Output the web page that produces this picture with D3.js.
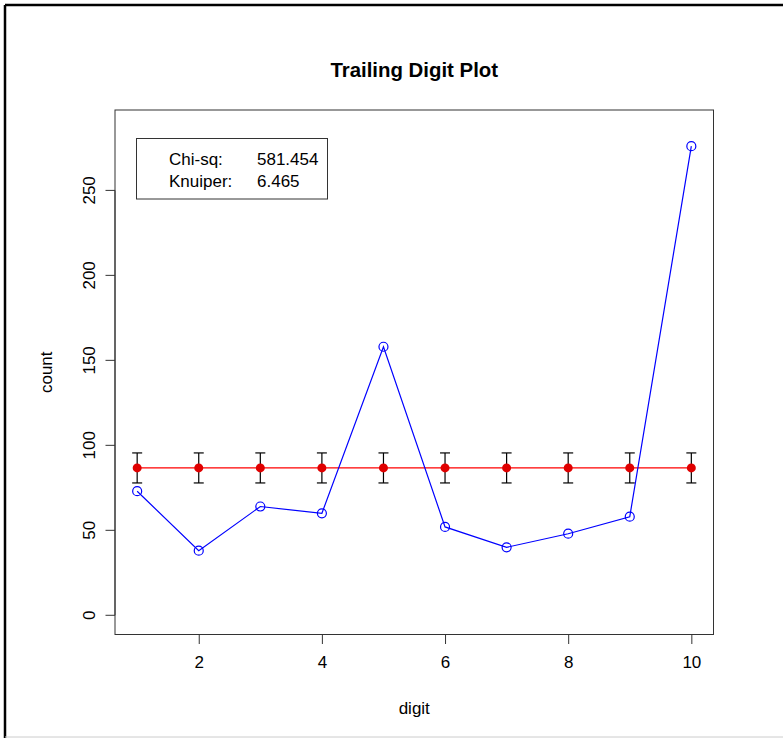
<!DOCTYPE html>
<html><head><meta charset="utf-8">
<script src="https://cdn.jsdelivr.net/npm/d3@7"></script>
<style>
html,body{margin:0;padding:0;background:#fff;}
svg{display:block;font-family:"Liberation Sans",Arial,Helvetica,sans-serif;}
</style></head>
<body>
<script>
const digits = [1,2,3,4,5,6,7,8,9,10];
const counts = [73,38,64,60,158,52,40,48,58,276];
const expected = [86.7,86.7,86.7,86.7,86.7,86.7,86.7,86.7,86.7,86.7];
const errHalf = [8.83,8.83,8.83,8.83,8.83,8.83,8.83,8.83,8.83,8.83];
const xTicks = [2,4,6,8,10];
const yTicks = [0,50,100,150,200,250];
const statLabels = ["Chi-sq:","Knuiper:"];
const statValues = ["581.454","6.465"];

const W=783,H=738;
const svg=d3.select("body").append("svg").attr("width",W).attr("height",H);

// outer frame
svg.append("line").attr("x1",5).attr("x2",W).attr("y1",5).attr("y2",5).attr("stroke","#000").attr("stroke-width",2.5);
svg.append("line").attr("x1",5).attr("x2",5).attr("y1",5).attr("y2",H).attr("stroke","#000").attr("stroke-width",2.5);
svg.append("line").attr("x1",5).attr("x2",W).attr("y1",737).attr("y2",737).attr("stroke","#ccc").attr("stroke-width",1);

const L=115,R=713.5,T=110,B=634.5;
const x=d3.scaleLinear().domain([0.64,10.36]).range([L,R]);
const y=d3.scaleLinear().domain([-11.3,297.3]).range([B,T]);

svg.append("rect").attr("x",L).attr("y",T).attr("width",R-L).attr("height",B-T)
  .attr("fill","none").attr("stroke","#333").attr("stroke-width",1);

// axes
const xAxis=svg.append("g").attr("transform",`translate(0,${B})`)
  .call(d3.axisBottom(x).tickValues(xTicks).tickSize(9.5).tickPadding(12).tickSizeOuter(0));
xAxis.select(".domain").attr("d",`M${x(xTicks[0])},0H${x(xTicks[xTicks.length-1])}`);
const yAxis=svg.append("g").attr("transform",`translate(${L},0)`)
  .call(d3.axisLeft(y).tickValues(yTicks).tickSize(9.5).tickPadding(10).tickSizeOuter(0));
yAxis.select(".domain").attr("d",`M0,${y(yTicks[0])}V${y(yTicks[yTicks.length-1])}`);
[xAxis,yAxis].forEach(g=>{
  g.selectAll("path,line").attr("stroke","#333");
  g.selectAll("text").attr("font-size",17).attr("fill","#000").attr("font-family","Liberation Sans, Arial, sans-serif");
});
yAxis.selectAll(".tick text").attr("text-anchor","middle").attr("dy",null)
  .attr("transform",function(d){return `translate(-26,${y(d)}) rotate(-90)`;}).attr("x",0).attr("y",0)
  .attr("dominant-baseline","central");
yAxis.selectAll(".tick").attr("transform",null);
yAxis.selectAll(".tick line").attr("transform",d=>`translate(0,${y(d)})`);

// title and labels
svg.append("text").attr("x",(L+R)/2).attr("y",77).attr("text-anchor","middle")
  .attr("font-size",20.4).attr("font-weight","bold").text("Trailing Digit Plot");
svg.append("text").attr("x",(L+R)/2).attr("y",714).attr("text-anchor","middle")
  .attr("font-size",17).text("digit");
svg.append("text").attr("transform",`translate(52,${(T+B)/2}) rotate(-90)`).attr("text-anchor","middle")
  .attr("font-size",17).text("count");

// expected line
const line=d3.line().x((d,i)=>x(digits[i])).y(d=>y(d));
svg.append("path").datum(expected).attr("d",line).attr("fill","none").attr("stroke","#ff0000").attr("stroke-width",1.2);

// error bars
const eb=svg.append("g").attr("stroke","#000").attr("stroke-width",1.2);
digits.forEach((d,i)=>{
  const xi=x(d),lo=y(expected[i]-errHalf[i]),hi=y(expected[i]+errHalf[i]);
  eb.append("line").attr("x1",xi).attr("x2",xi).attr("y1",lo).attr("y2",hi);
  eb.append("line").attr("x1",xi-5).attr("x2",xi+5).attr("y1",lo).attr("y2",lo);
  eb.append("line").attr("x1",xi-5).attr("x2",xi+5).attr("y1",hi).attr("y2",hi);
});
svg.append("g").selectAll("circle").data(expected).join("circle")
  .attr("cx",(d,i)=>x(digits[i])).attr("cy",d=>y(d)).attr("r",4.5).attr("fill","#e00000");

// observed
svg.append("path").datum(counts).attr("d",line).attr("fill","none").attr("stroke","#0000ff").attr("stroke-width",1.2);
svg.append("g").selectAll("circle").data(counts).join("circle")
  .attr("cx",(d,i)=>x(digits[i])).attr("cy",d=>y(d)).attr("r",4.5)
  .attr("fill","none").attr("stroke","#0000ff").attr("stroke-width",1.2);

// legend
svg.append("rect").attr("x",136.5).attr("y",138.5).attr("width",191).attr("height",60.5)
  .attr("fill","#fff").attr("stroke","#333").attr("stroke-width",1);
statLabels.forEach((s,i)=>{
  svg.append("text").attr("x",169).attr("y",165+i*21.5).attr("font-size",17).text(s);
  svg.append("text").attr("x",257).attr("y",165+i*21.5).attr("font-size",17).text(statValues[i]);
});
</script>
</body></html>
